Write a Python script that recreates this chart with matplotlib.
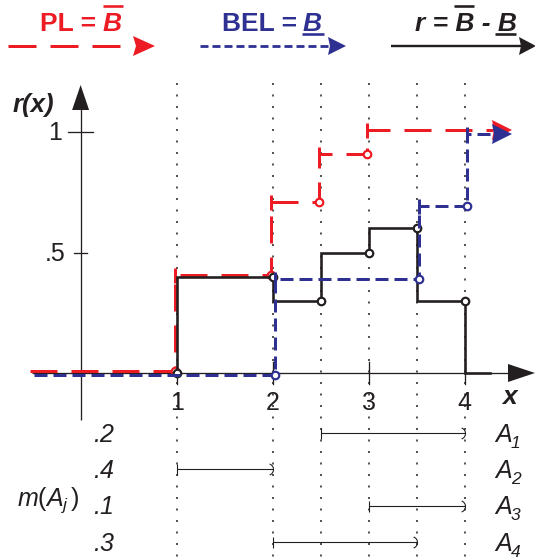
import numpy as np
import matplotlib
matplotlib.use("Agg")
import matplotlib.pyplot as plt
import matplotlib.transforms as mtrans
from matplotlib.patches import Polygon
from matplotlib.path import Path

plt.rcParams['font.family'] = ['Liberation Sans', 'DejaVu Sans']
plt.rcParams['mathtext.fontset'] = 'custom'
plt.rcParams['mathtext.rm'] = 'Liberation Sans'
plt.rcParams['mathtext.it'] = 'Liberation Sans:italic'
plt.rcParams['mathtext.bf'] = 'Liberation Sans:bold'
plt.rcParams['lines.scale_dashes'] = False

# ---------------- data ----------------
focal_labels = ['1', '2', '3', '4']          # A_j subscripts
focal_mass = ['.2', '.4', '.1', '.3']
focal_left = [2.5, 1.0, 3.0, 2.0]
focal_right = [4.0, 2.0, 4.0, 3.5]

pl_x = [1.0, 2.0, 2.5, 3.0]        # plausibility jumps
pl_y = [0.4, 0.7, 0.9, 1.0]
bel_x = [2.0, 3.5, 4.0]            # belief jumps
bel_y = [0.4, 0.7, 1.0]
r_x = [1.0, 2.0, 2.5, 3.0, 3.5, 4.0]   # r = PL - BEL
r_y = [0.4, 0.3, 0.5, 0.6, 0.3, 0.0]

guide_x = [1.0, 2.0, 2.5, 3.0, 3.5, 4.0]
xtick_vals = [1, 2, 3, 4]
xtick_labels = ['1', '2', '3', '4']
ytick_vals = [1.0, 0.5]
ytick_labels = ['1', '.5']

RED = '#ED1C24'
BLUE = '#2E3192'
BLK = '#231F20'

# ---------------- layout ----------------
W, H = 535, 560
X0, SX = 80.6, 96.0
Y0, SY = 373.0, 241.0

fig = plt.figure(figsize=(W / 100, H / 100), dpi=100)
ax = fig.add_axes([0, 0, 1, 1])
ax.set_xlim(-X0 / SX, (W - X0) / SX)
ax.set_ylim((Y0 - H) / SY, Y0 / SY)
ax.axis('off')


def px(x):
    return (x - X0) / SX


def py(y):
    return (Y0 - y) / SY


def PT(p):  # pixels -> points
    return p * 0.72


def head(xtip, ytip, length, hw, color, up=False, notch=0.0, z=6, tr=None):
    dl, dh, dn = length / SX, hw / SY, notch / SX
    if up:
        dl, dh, dn = length / SY, hw / SX, notch / SY
        pts = [(xtip - dh, ytip - dl), (xtip, ytip), (xtip + dh, ytip - dl),
               (xtip, ytip - dl + dn)]
    else:
        pts = [(xtip - dl, ytip + dh), (xtip, ytip), (xtip - dl, ytip - dh),
               (xtip - dl + dn, ytip)]
    ax.add_patch(Polygon(pts, closed=True, fc=color, ec='none', zorder=z,
                         transform=tr if tr is not None else ax.transData))


tr_red = ax.transData + mtrans.ScaledTranslation(-0.02, 0.02, fig.dpi_scale_trans)
tr_blue = ax.transData + mtrans.ScaledTranslation(0.02, -0.02, fig.dpi_scale_trans)

# ---------------- guides ----------------
for gx in guide_x:
    ax.plot([gx, gx], [py(83), py(H)], color=BLK, lw=1.1,
            ls=(0, (PT(2), PT(9.5))), zorder=1)

# ---------------- axes ----------------
ax.plot([px(32), px(512)], [0, 0], color=BLK, lw=PT(1.3), zorder=2,
        solid_capstyle='butt')
head(px(535), 0, 27, 9, BLK, z=2)
ax.plot([0, 0], [py(420), py(105)], color=BLK, lw=PT(1.3), zorder=2,
        solid_capstyle='butt')
head(0, py(85), 25, 8.5, BLK, up=True, z=2)

tick_half = [12.5, 6.5]
for v, lab, hh in zip(ytick_vals, ytick_labels, tick_half):
    ax.plot([-hh / SX, hh / SX], [v, v], color=BLK, lw=PT(1.3), zorder=2)
    ax.text(px(62 if lab == '1' else 66), v - 8.5 / SY, lab, fontsize=18,
            ha='right', va='baseline', color=BLK)
for v, lab in zip(xtick_vals, xtick_labels):
    ax.plot([v, v], [-11 / SY, 11 / SY], color=BLK, lw=PT(1.3), zorder=2)
    ax.text(v, py(410), lab, fontsize=18, ha='center', va='baseline', color=BLK)

ax.text(px(13), py(112), 'r(x)', fontsize=18.5, fontweight='bold',
        fontstyle='italic', ha='left', va='baseline', color=BLK)
ax.text(px(502), py(404), 'x', fontsize=19, fontweight='bold',
        fontstyle='italic', ha='left', va='baseline', color=BLK)

# ---------------- PL (red) ----------------
pl_xs = [px(32)] + pl_x + [px(495)]
pl_ys = [0.0] + pl_y + [pl_y[-1]]
ax.plot(pl_xs, pl_ys, drawstyle='steps-post', color=RED, lw=PT(3),
        ls=(0, (PT(27), PT(14))), dash_capstyle='butt', transform=tr_red, zorder=3)
ax.plot(pl_x, pl_y, ls='none', marker='|', ms=PT(15), mew=PT(3), color=RED,
        transform=tr_red, zorder=3)
ax.plot(pl_x, [0.0] + pl_y[:-1], ls='none', marker='o', ms=PT(7.5), mew=PT(2.2),
        mfc='white', mec=RED, transform=tr_red, zorder=3)
head(px(514), pl_y[-1], 20, 10, RED, notch=2, z=3, tr=tr_red)

# ---------------- r (black) ----------------
r_xs = [r_x[0]] + r_x + [px(490)]
r_ys = [0.0] + r_y + [0.0]
ax.plot(r_xs, r_ys, drawstyle='steps-post', color=BLK, lw=PT(2.6), zorder=4,
        solid_joinstyle='miter')
ax.plot(r_x, [0.0] + r_y[:-1], ls='none', marker='o', ms=PT(7.5), mew=PT(2.2),
        mfc='white', mec=BLK, zorder=4)

# ---------------- BEL (blue) ----------------
bel_xs = [px(32)] + bel_x + [px(495)]
bel_ys = [0.0] + bel_y + [bel_y[-1]]
ax.plot(bel_xs, bel_ys, drawstyle='steps-post', color=BLUE, lw=PT(3),
        ls=(0, (PT(13), PT(6))), dash_capstyle='butt', transform=tr_blue, zorder=5)
ax.plot(bel_x, bel_y, ls='none', marker='|', ms=PT(15), mew=PT(3), color=BLUE,
        transform=tr_blue, zorder=5)
ax.plot(bel_x, [0.0] + bel_y[:-1], ls='none', marker='o', ms=PT(7.5), mew=PT(2.2),
        mfc='white', mec=BLUE, transform=tr_blue, zorder=5)
head(px(510), bel_y[-1], 20, 10, BLUE, notch=2, z=6, tr=tr_blue)

# ---------------- focal elements ----------------
t = np.linspace(-np.radians(70), np.radians(70), 25)
arc = Path(np.column_stack([np.cos(t) - 1.0, np.sin(t)]))
row0, drow = 433.0, 36.4
for i, (lab, m, a, b) in enumerate(zip(focal_labels, focal_mass, focal_left, focal_right)):
    yr = py(row0 + i * drow)
    ax.plot([a, b], [yr, yr], color=BLK, lw=PT(1.1), zorder=2, solid_capstyle='butt')
    ax.plot([a], [yr], marker='|', ms=PT(11), mew=PT(1.1), color=BLK, zorder=2)
    ax.plot([b], [yr], marker=arc, ms=PT(11), mew=PT(1.1), mfc='none', mec=BLK, zorder=2)
    ax.text(px(93), yr - 8.5 / SY, m, fontsize=18, fontstyle='italic',
            ha='left', va='baseline', color=BLK)
    ax.text(px(495), yr - 8.5 / SY, 'A', fontsize=18, fontstyle='italic',
            ha='left', va='baseline', color=BLK)
    ax.text(px(511), yr - 14.5 / SY, lab, fontsize=12.5, fontstyle='italic',
            ha='left', va='baseline', color=BLK)
ax.text(px(17), py(506), r'$m(A_{j}\,)$', fontsize=18,
        ha='left', va='baseline', color=BLK)

# ---------------- header legend ----------------
yb = py(31)
ax.text(px(40), yb, 'PL = ', fontsize=19, fontweight='bold', color=RED,
        ha='left', va='baseline')
ax.text(px(103), yb, 'B', fontsize=19, fontweight='bold', fontstyle='italic',
        color=RED, ha='left', va='baseline')
ax.plot([px(103), px(123)], [py(6), py(6)], color=RED, lw=PT(2.6), solid_capstyle='butt')

ax.text(px(222), yb, 'BEL = ', fontsize=19, fontweight='bold', color=BLUE,
        ha='left', va='baseline')
ax.text(px(303), yb, 'B', fontsize=19, fontweight='bold', fontstyle='italic',
        color=BLUE, ha='left', va='baseline')
ax.plot([px(302), px(324)], [py(34), py(34)], color=BLUE, lw=PT(2.6), solid_capstyle='butt')

ax.text(px(415), yb, 'r = B - B', fontsize=19, fontweight='bold', fontstyle='italic',
        color=BLK, ha='left', va='baseline')
ax.plot([px(454), px(474)], [py(6), py(6)], color=BLK, lw=PT(2.6), solid_capstyle='butt')
ax.plot([px(495), px(516)], [py(34), py(34)], color=BLK, lw=PT(2.6), solid_capstyle='butt')

yl = py(46)
ax.plot([px(8), px(134)], [yl, yl], color=RED, lw=PT(3),
        ls=(0, (PT(28), PT(14))), dash_capstyle='butt')
head(px(155), yl, 22, 10, RED, notch=3)
ax.plot([px(200), px(330)], [yl, yl], color=BLUE, lw=PT(2.8),
        ls=(0, (PT(8), PT(4))), dash_capstyle='butt')
head(px(346), yl, 18, 9, BLUE, notch=2)
ax.plot([px(391), px(522)], [yl, yl], color=BLK, lw=PT(2.4), solid_capstyle='butt')
head(px(536), yl, 17, 9, BLK, notch=2)

fig.savefig('out.png', dpi=100)
